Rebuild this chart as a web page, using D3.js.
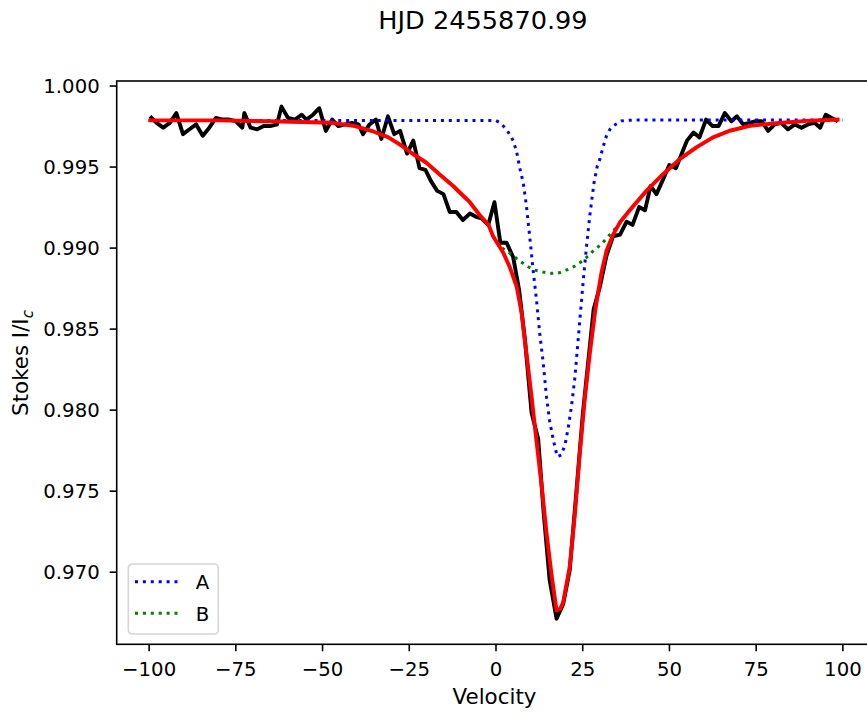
<!DOCTYPE html>
<html>
<head>
<meta charset="utf-8">
<script src="https://cdn.jsdelivr.net/npm/d3@7"></script>
<style>
	body { margin: 0; background: #fff; }
	svg { display: block; font-family: 'DejaVu Sans', sans-serif; }
</style>
</head>
<body>
<div id="graphics"></div>
<script>
// observed Stokes I profile (velocity, flux)
const obsVel = [-99.6, -97.7, -95.8, -93.9, -92.0, -90.1, -88.2, -86.3, -84.4, -82.5, -80.6, -78.7, -76.8, -74.9,
	-73.0, -72.4, -70.6, -68.7, -66.8, -64.9, -63.0, -61.7, -59.8, -57.8, -55.9, -54.5, -52.6, -50.8, -48.9, -47.1,
	-45.3, -43.3, -41.4, -39.5, -38.2, -36.3, -34.5, -32.9, -31.0, -29.2, -27.5, -25.5, -23.7, -21.9, -20.2, -18.6,
	-16.8, -15.0, -13.2, -11.3, -9.4, -7.4, -5.6, -4.0, -2.1, -0.3, 1.4, 3.2, 5.1, 6.8, 8.5, 10.4, 12.3, 13.9, 15.6,
	17.6, 19.5, 21.4, 23.3, 25.2, 26.8, 28.3, 30.1, 32.0, 33.9, 35.9, 37.8, 39.5, 41.4, 43.1, 44.7, 46.4, 48.3, 50.1,
	52.0, 53.7, 55.2, 57.1, 58.8, 60.7, 62.6, 64.3, 66.1, 68.0, 69.6, 71.4, 73.3, 75.0, 76.7, 78.6, 80.5, 82.4, 84.3,
	86.3, 88.2, 90.1, 92.0, 93.6, 95.2, 96.9, 98.7];
const obsFlux = [0.9981, 0.9977, 0.9974, 0.9977, 0.9983, 0.9970, 0.9973, 0.9976, 0.9969, 0.9974, 0.9980, 0.9979, 0.9979, 0.9978,
	0.9974, 0.9983, 0.9974, 0.9973, 0.9975, 0.9975, 0.9976, 0.9987, 0.9980, 0.9979, 0.9982, 0.9979, 0.9982, 0.9986, 0.9972, 0.9979,
	0.9975, 0.9976, 0.9977, 0.9976, 0.9970, 0.9976, 0.9979, 0.9967, 0.9981, 0.9970, 0.9972, 0.9958, 0.9966, 0.9949, 0.9948, 0.9941,
	0.9935, 0.9933, 0.9922, 0.9922, 0.9917, 0.9921, 0.9919, 0.9918, 0.9914, 0.9928, 0.9903, 0.9903, 0.9894, 0.9874, 0.9843, 0.9798, 0.9782, 0.9736, 0.9695,
	0.9671, 0.9680, 0.9701, 0.9749, 0.9798, 0.9831, 0.9862, 0.9876, 0.9895, 0.9907, 0.9908, 0.9916, 0.9914, 0.9925, 0.9923, 0.9938, 0.9933, 0.9942, 0.9951,
	0.9949, 0.9958, 0.9966, 0.9971, 0.9968, 0.9979, 0.9975, 0.9975, 0.9983, 0.9978, 0.9981, 0.9976, 0.9977, 0.9978, 0.9978, 0.9972, 0.9976, 0.9977, 0.9973,
	0.9976, 0.9974, 0.9976, 0.9977, 0.9974, 0.9982, 0.9980, 0.9978];

// component A
const aVel = [-100, 0, 1.2, 3.2, 5.1, 6.1, 7.0, 8.0, 8.9, 9.9, 10.8, 11.8, 12.8, 13.7, 14.7, 15.6, 16.6, 17.8, 19.0,
	20.1, 20.9, 21.9, 22.9, 23.7, 24.5, 25.4, 26.3, 27.2, 28.4, 29.3, 30.1, 31.0, 32.0, 33.0, 33.9, 36.3, 39.7, 100];
const aFlux = [0.99785, 0.99785, 0.99772, 0.9973, 0.9966, 0.9959, 0.9949, 0.9940, 0.9926, 0.9906, 0.9887, 0.9868, 0.9846, 0.9830, 0.9808, 0.9793, 0.9782, 0.9771, 0.9772,
	0.9779, 0.9788, 0.9802, 0.9820, 0.9840, 0.9860, 0.9882, 0.9902, 0.9920, 0.9940, 0.9950, 0.99546, 0.9962, 0.9969, 0.9973, 0.99751, 0.99782, 0.99787, 0.99787];

// component B
const bVel = [-100, -80, -65, -56, -47, -41, -35, -31, -27.5, -23.7, -20, -16, -12.2, -10.3, -7.4, -4.5, -2, -0.7,
	1.7, 4.6, 7.0, 9.4, 11.3, 13.7, 16.1, 18.5, 20.9, 22.9, 24.8, 26.7, 28.6, 30.5, 32.0, 33.9, 36.3, 38.7, 43.5,
	48.3, 53.1, 57.9, 62.7, 67.5, 73.3, 80, 89.6, 99.2];
const bFlux = [0.99785, 0.99785, 0.9978, 0.99775, 0.9977, 0.99752, 0.99715, 0.99682, 0.99635, 0.99576, 0.99525, 0.9945, 0.9938, 0.9934, 0.9928, 0.9920, 0.9914, 0.9907,
	0.9900, 0.98958, 0.98917, 0.98882, 0.98861, 0.98849, 0.98841, 0.98845, 0.98865, 0.98886, 0.98914, 0.98948, 0.98989, 0.9902, 0.99057, 0.99102, 0.99164, 0.9923, 0.9935,
	0.99453, 0.99546, 0.99618, 0.9968, 0.99721, 0.99751, 0.99766, 0.99782, 0.9979];

// total fit
const fitVel = [-100, -80, -65, -56, -47, -41, -35, -31, -27.5, -23.7, -20, -16, -12.2, -10.3, -7.4, -4.5, -2, -0.7,
	2.2, 4.1, 6.1, 7.5, 8.9, 10.4, 11.8, 13.3, 14.7, 16.1, 17.6, 18.6, 19.5, 21.4, 22.9, 24.3, 25.7, 27.2, 28.8, 30.5,
	32.0, 33.9, 36.0, 38.7, 43.5, 48.3, 53.1, 57.9, 62.7, 67.5, 73.3, 80, 89.6, 99.2];
const fitFlux = [0.99785, 0.99785, 0.9978, 0.99775, 0.9977, 0.99752, 0.99715, 0.99682, 0.99635, 0.99576, 0.99525, 0.9945, 0.9938, 0.9934, 0.9928, 0.9920, 0.9914, 0.9907,
	0.9897, 0.9888, 0.9876, 0.9860, 0.9835, 0.9808, 0.9781, 0.9753, 0.9724, 0.9699, 0.9676, 0.9677, 0.9681, 0.9703, 0.9736, 0.9773, 0.9806, 0.9835, 0.9862, 0.9884,
	0.9898, 0.9908, 0.9916, 0.9923, 0.9935, 0.99453, 0.99546, 0.99618, 0.9968, 0.99721, 0.99751, 0.99766, 0.99782, 0.9979];

const xTicks = [-100, -75, -50, -25, 0, 25, 50, 75, 100];
const yTicks = [0.970, 0.975, 0.980, 0.985, 0.990, 0.995, 1.000];
const legendLabels = ['A', 'B'];

const margin = { top: 81, left: 116.7 };
const width = 757.6;
const height = 563.3;
const fs = 19.7;
const labelFs = 21.4;

const svgRoot = d3
	.select('#graphics')
	.append('svg')
	.attr('width', 867)
	.attr('height', 713);

const svg = svgRoot.append('g')
	.attr('transform', 'translate(' + margin.left + ',' + margin.top + ')');

// Scales
const xPositionScale = d3.scaleLinear().domain([-109.2, 109.2]).range([0, width]);
const yPositionScale = d3.scaleLinear().domain([0.96552, 1.00028]).range([height, 0]);

const line = d3.line()
	.x((d) => xPositionScale(d[0]))
	.y((d) => yPositionScale(d[1]));

const zip = (a, b) => a.map((v, i) => [v, b[i]]);

// black observed, then components, then fit on top
svg.append('path').datum(zip(obsVel, obsFlux))
	.attr('d', line).attr('fill', 'none').attr('stroke', '#000').attr('stroke-width', 3.9)
	.attr('stroke-linejoin', 'round');

svg.append('path').datum(zip(aVel, aFlux))
	.attr('d', line).attr('fill', 'none').attr('stroke', '#0000ff').attr('stroke-width', 3)
	.attr('stroke-dasharray', '3,4.9');

svg.append('path').datum(zip(bVel, bFlux))
	.attr('d', line).attr('fill', 'none').attr('stroke', '#008000').attr('stroke-width', 3)
	.attr('stroke-dasharray', '3,4.9');

svg.append('path').datum(zip(fitVel, fitFlux))
	.attr('d', line).attr('fill', 'none').attr('stroke', '#ff0000').attr('stroke-width', 3.9)
	.attr('stroke-linejoin', 'round');

// axes
const xAxis = svg.append('g')
	.attr('transform', 'translate(0,' + height + ')')
	.call(d3.axisBottom(xPositionScale).tickValues(xTicks).tickSize(7).tickSizeOuter(0).tickPadding(11)
		.tickFormat((d) => (d < 0 ? '\u2212' + Math.abs(d) : d)));

const yAxis = svg.append('g')
	.call(d3.axisLeft(yPositionScale).tickValues(yTicks).tickSize(7).tickSizeOuter(0).tickPadding(10)
		.tickFormat(d3.format('.3f')));

svg.selectAll('.domain').remove();
svg.selectAll('.tick line').attr('stroke', '#000').attr('stroke-width', 1.6);
svg.selectAll('.tick text').attr('font-size', fs).attr('font-family', "'DejaVu Sans', sans-serif").attr('fill', '#000');
yAxis.selectAll('.tick text').attr('dy', '0.36em');

// spines
svg.append('rect')
	.attr('width', width).attr('height', height)
	.attr('fill', 'none').attr('stroke', '#000').attr('stroke-width', 1.6);

// labels
svgRoot.append('text')
	.text('HJD 2455870.99')
	.attr('x', 483).attr('y', 28.5)
	.attr('text-anchor', 'middle').attr('font-size', 25.6);

svgRoot.append('text')
	.text('Velocity')
	.attr('x', margin.left + width / 2 - 1).attr('y', 704.4)
	.attr('text-anchor', 'middle').attr('font-size', labelFs);

const yLabel = svgRoot.append('text')
	.attr('transform', 'translate(28,363) rotate(-90)')
	.attr('text-anchor', 'middle').attr('font-size', labelFs);
yLabel.append('tspan').text('Stokes I/I');
yLabel.append('tspan').text('c').attr('font-style', 'italic').attr('font-size', labelFs * 0.7).attr('dy', 4.5);

// legend
const legend = svgRoot.append('g').attr('transform', 'translate(128.3,564)');
legend.append('rect')
	.attr('width', 90).attr('height', 70).attr('rx', 4)
	.attr('fill', '#fff').attr('fill-opacity', 0.8)
	.attr('stroke', '#d5d5d5').attr('stroke-width', 1.6);

const legendColors = ['#0000ff', '#008000'];
legendLabels.forEach((lab, i) => {
	const yy = 17.7 + i * 31.6;
	legend.append('line')
		.attr('x1', 6.7).attr('x2', 50.7).attr('y1', yy).attr('y2', yy)
		.attr('stroke', legendColors[i]).attr('stroke-width', 3).attr('stroke-dasharray', '3,4.9');
	legend.append('text')
		.text(lab)
		.attr('x', 67.5).attr('y', yy + 7.2)
		.attr('font-size', fs);
});
</script>
</body>
</html>
